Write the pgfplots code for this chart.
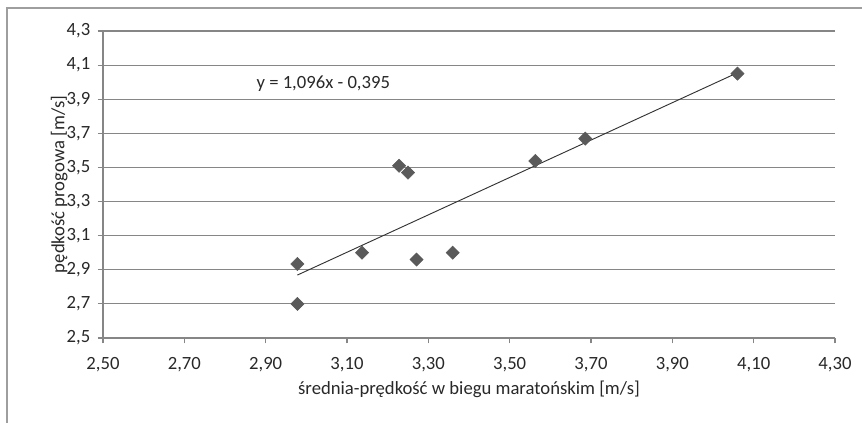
\documentclass[border=0pt]{standalone}
\usepackage{pgfplots}
\pgfplotsset{compat=1.18}
\usepackage{fontspec}
\setmainfont{Carlito}
\definecolor{gridc}{RGB}{134,134,134}
\definecolor{markc}{RGB}{90,90,90}
\definecolor{txtc}{RGB}{40,40,40}
\begin{document}
\begin{tikzpicture}
\useasboundingbox (-77.25pt,-63.75pt) rectangle (569.25pt,253.5pt);
\draw[gridc!80, line width=0.8pt] (-72pt,-90pt) -- (-72pt,247.5pt) -- (620pt,247.5pt);
\begin{axis}[
  at={(0pt,0pt)}, anchor=south west,
  scale only axis, width=549pt, height=230.25pt,
  xmin=2.5, xmax=4.3, ymin=2.5, ymax=4.3,
  xtick={2.5,2.7,...,4.31}, ytick={2.5,2.7,...,4.31},
  axis x line=bottom, axis y line=left,
  axis line style={gridc, line width=0.8pt, -},
  ymajorgrids, grid style={gridc, line width=0.8pt},
  tick style={gridc, line width=0.8pt},
  tick align=outside, major tick length=4pt,
  x tick label style={/pgf/number format/fixed, /pgf/number format/fixed zerofill, /pgf/number format/precision=2, /pgf/number format/use comma, /pgf/number format/assume math mode=true, font=\fontsize{14}{16}\selectfont, text=txtc, yshift=-7pt},
  y tick label style={/pgf/number format/fixed, /pgf/number format/fixed zerofill, /pgf/number format/precision=1, /pgf/number format/use comma, /pgf/number format/assume math mode=true, font=\fontsize{14}{16}\selectfont, text=txtc, xshift=-2pt},
  xlabel={średnia-prędkość w biegu maratońskim [m/s]},
  ylabel={pędkość progowa [m/s]},
  label style={font=\fontsize{14}{16}\selectfont, text=txtc},
  xlabel style={yshift=0pt},
  ylabel style={yshift=-7.5pt},
  clip=false,
]
\addplot[only marks, mark=square*, mark size=3.5pt, mark options={rotate=45, fill=markc, draw=markc}]
coordinates {
(2.978,2.934) (2.978,2.700) (3.137,3.000) (3.228,3.510) (3.250,3.470)
(3.271,2.960) (3.360,3.000) (3.563,3.538) (3.686,3.669) (4.060,4.050)
};
\addplot[black!80, line width=0.7pt, no marks] coordinates {(2.978,2.869) (4.060,4.055)};
\node[anchor=west, font=\fontsize{14}{16}\selectfont, text=txtc, inner sep=0pt] at (axis cs:2.877,3.99) {y = 1,096x - 0,395};
\end{axis}
\end{tikzpicture}
\end{document}
